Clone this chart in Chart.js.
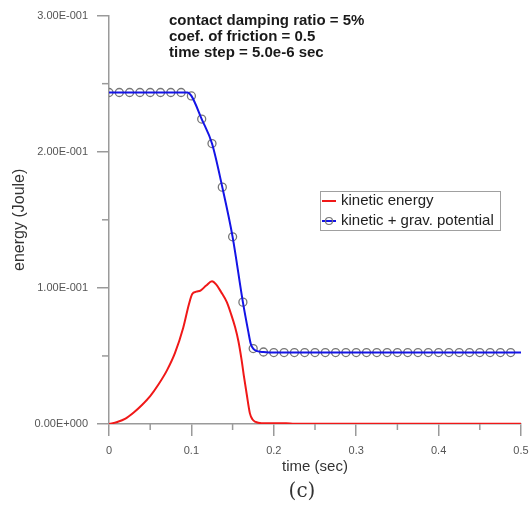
<!DOCTYPE html>
<html>
<head>
<meta charset="utf-8">
<script src="https://cdn.jsdelivr.net/npm/chart.js@4.4.0/dist/chart.umd.min.js"></script>
<style>
  html, body { margin: 0; padding: 0; background: #fff; }
  #wrap { position: relative; width: 530px; height: 512px; }
</style>
</head>
<body>
<div id="wrap"><canvas id="energy-chart"></canvas></div>
<script>
// kinetic energy (dense curve)
const keTime = [0, 0.01, 0.02, 0.03, 0.04, 0.05, 0.06, 0.07, 0.08, 0.09, 0.097, 0.101, 0.106, 0.111, 0.118, 0.125, 0.13, 0.136, 0.143, 0.148, 0.153, 0.157, 0.161, 0.164, 0.167, 0.171, 0.174, 0.178, 0.185, 0.215, 0.225, 0.5];
const keEnergy = [0, 0.0015, 0.004, 0.0085, 0.014, 0.0205, 0.029, 0.039, 0.052, 0.0705, 0.088, 0.0955, 0.0972, 0.098, 0.1017, 0.1048, 0.1025, 0.097, 0.0895, 0.081, 0.0712, 0.061, 0.0468, 0.034, 0.0224, 0.0078, 0.0035, 0.0015, 0.0006, 0.0005, 0.0001, 0.0001];

// kinetic + gravitational potential (dense curve)
const totTime = [0, 0.095, 0.1, 0.1125, 0.125, 0.1375, 0.15, 0.1625, 0.169, 0.172, 0.175, 0.18, 0.1875, 0.2, 0.5];
const totEnergy = [0.2435, 0.2435, 0.241, 0.224, 0.206, 0.174, 0.1375, 0.0895, 0.068, 0.059, 0.0554, 0.0535, 0.0529, 0.0525, 0.0525];

// sampled points shown as circles
const markTime = [0, 0.0125, 0.025, 0.0375, 0.05, 0.0625, 0.075, 0.0875, 0.1, 0.1125, 0.125, 0.1375, 0.15, 0.1625, 0.175, 0.1875,
  0.2, 0.2125, 0.225, 0.2375, 0.25, 0.2625, 0.275, 0.2875, 0.3, 0.3125, 0.325, 0.3375, 0.35, 0.3625, 0.375, 0.3875,
  0.4, 0.4125, 0.425, 0.4375, 0.45, 0.4625, 0.475, 0.4875];
const markEnergy = [0.2435, 0.2435, 0.2435, 0.2435, 0.2435, 0.2435, 0.2435, 0.2435, 0.241, 0.224, 0.206, 0.174, 0.1375, 0.0895, 0.0554, 0.0529,
  0.0525, 0.0525, 0.0525, 0.0525, 0.0525, 0.0525, 0.0525, 0.0525, 0.0525, 0.0525, 0.0525, 0.0525, 0.0525, 0.0525, 0.0525, 0.0525,
  0.0525, 0.0525, 0.0525, 0.0525, 0.0525, 0.0525, 0.0525, 0.0525];

const yTicks = [0, 0.1, 0.2, 0.3];
const xTicks = [0, 0.1, 0.2, 0.3, 0.4, 0.5];
const yMinor = [0.05, 0.15, 0.25];
const xMinor = [0.05, 0.15, 0.25, 0.35, 0.45];

const noteLines = ['contact damping ratio = 5%', 'coef. of friction = 0.5', 'time step = 5.0e-6 sec'];
const legendLabels = ['kinetic energy', 'kinetic + grav. potential'];
const caption = '(c)';

const axisColor = '#9a9a9a';
const redLine = '#f01818';
const blueLine = '#1414e6';
const markColor = '#777777';

function toPoints(xs, ys) {
  return xs.map((x, i) => ({ x: x, y: ys[i] }));
}

// 3.00E-001 style labels
function sciLabel(v) {
  if (Math.abs(v) < 1e-12) return '0.00E+000';
  const exp = Math.floor(Math.log10(Math.abs(v)) + 1e-9);
  const mant = v / Math.pow(10, exp);
  const sign = exp < 0 ? '-' : '+';
  return mant.toFixed(2) + 'E' + sign + String(Math.abs(exp)).padStart(3, '0');
}

// short minor ticks, the note text, legend box and caption
const extras = {
  id: 'extras',
  afterDraw(chart) {
    const ctx = chart.ctx;
    const xs = chart.scales.x, ys = chart.scales.y;
    const area = chart.chartArea;
    ctx.save();
    ctx.strokeStyle = axisColor;
    ctx.lineWidth = 1.5;
    yMinor.forEach(v => {
      const py = ys.getPixelForValue(v);
      ctx.beginPath();
      ctx.moveTo(area.left - 7, py);
      ctx.lineTo(area.left, py);
      ctx.stroke();
    });
    xMinor.forEach(v => {
      const px = xs.getPixelForValue(v);
      ctx.beginPath();
      ctx.moveTo(px, area.bottom);
      ctx.lineTo(px, area.bottom + 6);
      ctx.stroke();
    });

    // parameters note
    ctx.fillStyle = '#1a1a1a';
    ctx.font = 'bold 15px "Liberation Sans", Arial, sans-serif';
    ctx.textBaseline = 'middle';
    ctx.textAlign = 'left';
    noteLines.forEach((t, i) => ctx.fillText(t, 169, 21 + i * 15.8));

    // legend
    const lx = 320, ly = 191, lw = 180, lh = 39;
    ctx.fillStyle = '#fff';
    ctx.fillRect(lx, ly, lw, lh);
    ctx.strokeStyle = '#a0a0a0';
    ctx.lineWidth = 1;
    ctx.strokeRect(lx + 0.5, ly + 0.5, lw, lh);
    const rows = [ly + 10, ly + 30];
    ctx.lineWidth = 2;
    ctx.strokeStyle = chart.data.datasets[0].borderColor;
    ctx.beginPath(); ctx.moveTo(lx + 2, rows[0]); ctx.lineTo(lx + 16, rows[0]); ctx.stroke();
    ctx.strokeStyle = chart.data.datasets[1].borderColor;
    ctx.beginPath(); ctx.moveTo(lx + 2, rows[1]); ctx.lineTo(lx + 16, rows[1]); ctx.stroke();
    ctx.strokeStyle = markColor;
    ctx.lineWidth = 1.2;
    ctx.beginPath(); ctx.arc(lx + 9, rows[1], 3.5, 0, Math.PI * 2); ctx.stroke();
    ctx.fillStyle = '#222';
    ctx.font = '15px "Liberation Sans", Arial, sans-serif';
    legendLabels.forEach((t, i) => ctx.fillText(t, lx + 21, rows[i]));

    // panel caption
    ctx.font = '20px "DejaVu Serif", "Liberation Serif", serif';
    ctx.textAlign = 'center';
    ctx.fillStyle = '#333';
    ctx.fillText(caption, 302, 492);
    ctx.restore();
  }
};

const chart = new Chart(document.getElementById('energy-chart').getContext('2d'), {
  type: 'line',
  data: {
    datasets: [
      {
        label: legendLabels[0],
        data: toPoints(keTime, keEnergy),
        borderColor: redLine,
        borderWidth: 2,
        pointRadius: 0,
        cubicInterpolationMode: 'monotone',
        fill: false
      },
      {
        label: legendLabels[1],
        data: toPoints(totTime, totEnergy),
        borderColor: blueLine,
        borderWidth: 2,
        pointRadius: 0,
        cubicInterpolationMode: 'monotone',
        fill: false
      },
      {
        label: 'samples',
        data: toPoints(markTime, markEnergy),
        showLine: false,
        pointRadius: 4,
        pointBorderWidth: 1.3,
        pointBorderColor: markColor,
        pointBackgroundColor: 'rgba(0,0,0,0)'
      }
    ]
  },
  options: {
    responsive: true,
    maintainAspectRatio: false,
    animation: false,
    layout: { padding: { left: 10, top: 14, right: 9, bottom: 36 } },
    plugins: { legend: { display: false }, tooltip: { enabled: false } },
    scales: {
      x: {
        type: 'linear',
        min: 0,
        max: 0.5,
        afterBuildTicks: s => { s.ticks = xTicks.map(v => ({ value: v })); },
        afterFit: s => { s.height = 52; s.paddingRight = 0; s.paddingLeft = 0; },
        ticks: {
          callback: v => String(+v.toFixed(2)),
          color: '#555',
          font: { family: '"Liberation Sans", Arial, sans-serif', size: 11 },
          padding: 8,
          maxRotation: 0
        },
        grid: { drawOnChartArea: false, tickLength: 12, color: axisColor, lineWidth: 1.5 },
        border: { color: axisColor, width: 1.5 },
        title: {
          display: true,
          text: 'time (sec)',
          color: '#333',
          font: { family: '"Liberation Sans", Arial, sans-serif', size: 15 },
          padding: { top: 0, bottom: 0 }
        }
      },
      y: {
        min: 0,
        max: 0.3,
        afterBuildTicks: s => { s.ticks = yTicks.map(v => ({ value: v })); },
        afterFit: s => { s.width = 99; },
        ticks: {
          callback: v => sciLabel(v),
          color: '#555',
          font: { family: '"Liberation Sans", Arial, sans-serif', size: 11 },
          padding: 9
        },
        grid: { drawOnChartArea: false, tickLength: 12, color: axisColor, lineWidth: 1.5 },
        border: { color: axisColor, width: 1.5 },
        title: {
          display: true,
          text: 'energy (Joule)',
          color: '#333',
          font: { family: '"Liberation Sans", Arial, sans-serif', size: 16 },
          padding: { top: 0, bottom: 0 }
        }
      }
    }
  },
  plugins: [extras]
});
</script>
</body>
</html>
